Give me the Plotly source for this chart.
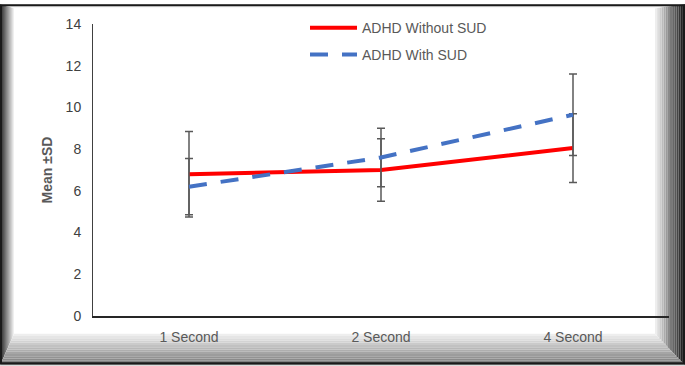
import plotly.graph_objects as go

categories = ["1 Second", "2 Second", "4 Second"]
without_sud = [6.8, 7.0, 8.05]
without_sud_sd = [2.05, 1.5, 1.65]
with_sud = [6.2, 7.6, 9.65]
with_sud_sd = [1.35, 1.4, 1.95]
y_ticks = [0, 2, 4, 6, 8, 10, 12, 14]

W, H = 685, 366
L, R, T, B = 93, 16, 20, 50
PW, PH = W - L - R, H - T - B

def px(x):
    return (x - L) / PW

def py(y):
    return (H - B - y) / PH

fig = go.Figure()
fig.add_trace(go.Scatter(
    x=categories, y=without_sud, mode="lines", name="ADHD Without SUD",
    line=dict(color="#FF0000", width=4),
    error_y=dict(type="data", array=without_sud_sd, visible=True,
                 color="#595959", thickness=1.5, width=4),
    legend="legend",
))
fig.add_trace(go.Scatter(
    x=categories, y=with_sud, mode="lines", name="ADHD With SUD",
    line=dict(color="#4472C4", width=4, dash="18px,14px"),
    error_y=dict(type="data", array=with_sud_sd, visible=True,
                 color="#595959", thickness=1.5, width=4),
    legend="legend2",
))

# bevel frame
def lerp(c1, c2, t):
    return "rgb(%d,%d,%d)" % tuple(int(a + (b - a) * t) for a, b in zip(c1, c2))

shapes = []
def strip_path(pts):
    return "M " + " L ".join("%f,%f" % (px(x), py(y)) for x, y in pts) + " Z"

n = 14
sides = {
    "left": (14, (40, 40, 40), (255, 255, 255)),
    "right": (30, (20, 20, 20), (255, 255, 255)),
    "top": (4, (200, 200, 200), (255, 255, 255)),
    "bottom": (32, (120, 120, 120), (248, 248, 248)),
}
wl, wr, wt, wb = sides["left"][0], sides["right"][0], sides["top"][0], sides["bottom"][0]
for i in range(n):
    a, b = i / n, (i + 1) / n
    w, co, ci = sides["left"]
    pts = [(wl * a, wt * a), (wl * b, wt * b), (wl * b, H - wb * b), (wl * a, H - wb * a)]
    shapes.append(dict(type="path", path=strip_path(pts), xref="paper", yref="paper",
                       fillcolor=lerp(co, ci, a), line=dict(width=0), layer="below"))
    w, co, ci = sides["right"]
    pts = [(W - wr * a, wt * a), (W - wr * b, wt * b), (W - wr * b, H - wb * b), (W - wr * a, H - wb * a)]
    shapes.append(dict(type="path", path=strip_path(pts), xref="paper", yref="paper",
                       fillcolor=lerp(co, ci, a), line=dict(width=0), layer="below"))
    w, co, ci = sides["top"]
    pts = [(wl * a, wt * a), (W - wr * a, wt * a), (W - wr * b, wt * b), (wl * b, wt * b)]
    shapes.append(dict(type="path", path=strip_path(pts), xref="paper", yref="paper",
                       fillcolor=lerp(co, ci, a), line=dict(width=0), layer="below"))
    w, co, ci = sides["bottom"]
    pts = [(wl * a, H - wb * a), (W - wr * a, H - wb * a), (W - wr * b, H - wb * b), (wl * b, H - wb * b)]
    shapes.append(dict(type="path", path=strip_path(pts), xref="paper", yref="paper",
                       fillcolor=lerp(co, ci, a), line=dict(width=0), layer="below"))
shapes.append(dict(type="rect", x0=px(1), x1=px(W - 1), y0=py(H - 2), y1=py(1),
                   xref="paper", yref="paper", line=dict(color="#1a1a1a", width=2),
                   fillcolor="rgba(0,0,0,0)", layer="below"))

fig.update_layout(
    width=W, height=H,
    margin=dict(l=L, r=R, t=T, b=B),
    paper_bgcolor="white", plot_bgcolor="rgba(0,0,0,0)",
    font=dict(family="Liberation Sans, Arial, sans-serif", color="#595959"),
    shapes=shapes,
    xaxis=dict(
        type="category", range=[-0.5, 2.5],
        showline=True, linecolor="#262626", linewidth=2,
        showgrid=False, ticks="", tickfont=dict(size=14, color="#595959"),
        ticklabelstandoff=7,
    ),
    yaxis=dict(
        range=[0, 14], tickvals=y_ticks, showgrid=False, zeroline=False,
        showline=True, linecolor="#404040", linewidth=1, ticks="",
        tickfont=dict(size=14, color="#404040"), ticklabelstandoff=8,
        title=dict(text="<b>Mean ±SD</b>", font=dict(size=14, color="#595959"), standoff=9),
    ),
    legend=dict(x=px(305), y=py(8), xanchor="left", yanchor="top",
                bgcolor="rgba(0,0,0,0)", itemwidth=47,
                font=dict(size=14, color="#595959")),
    legend2=dict(x=px(305), y=py(35), xanchor="left", yanchor="top",
                 bgcolor="rgba(0,0,0,0)", itemwidth=47,
                 font=dict(size=14, color="#595959")),
    showlegend=True,
)

fig.write_html("out.html", config={"displayModeBar": False},
               post_script="document.body.style.margin='0';")
